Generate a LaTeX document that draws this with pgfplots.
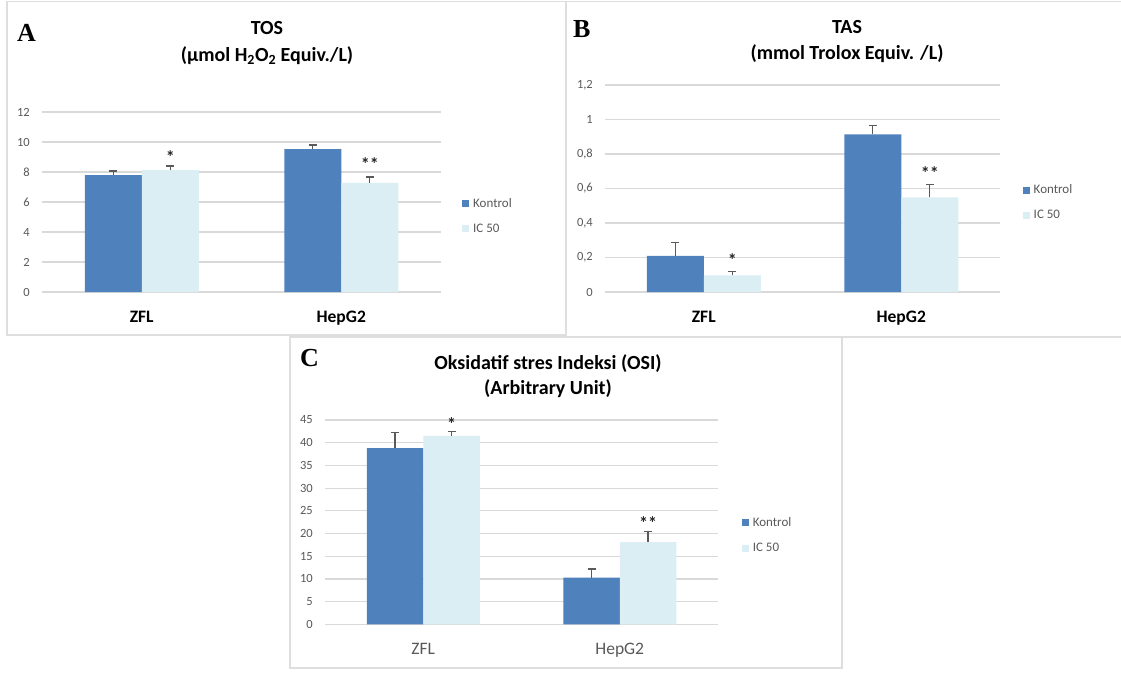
\documentclass[border=0pt]{standalone}
\usepackage{pgfplots}
\pgfplotsset{compat=1.18}
\usepackage{fontspec}
\setmainfont{Carlito}
\newfontfamily\serifbold{Liberation Serif}[BoldFont={Liberation Serif Bold}]
\definecolor{kon}{RGB}{79,129,189}
\definecolor{icc}{RGB}{219,238,244}
\definecolor{tickgray}{RGB}{89,89,89}
\definecolor{gridgray}{RGB}{217,217,217}
\definecolor{framegray}{RGB}{222,222,222}
\definecolor{errgray}{RGB}{90,90,90}

\pgfplotsset{
  panel/.style={
    scale only axis,
    ybar=0pt,
    bar width=57pt,
    xmin=-0.5, xmax=1.5,
    xtick={0,1},
    xticklabels={ZFL,HepG2},
    ymin=0,
    axis line style={draw=none},
    major tick length=0pt,
    tick style={draw=none},
    ymajorgrids,
    major grid style={gridgray, line width=1.2pt},
    /pgf/number format/assume math mode=true,
    yticklabel style={font=\fontsize{12.5}{14}\selectfont, text=tickgray, inner sep=0pt, anchor=east, xshift=-12pt},
    xticklabel style={font=\fontsize{17.5}{20}\selectfont\bfseries, text=black, inner sep=0pt, anchor=north, yshift=-19pt},
    legend style={draw=none, fill=none, inner sep=0pt, anchor=west,
      font=\fontsize{13}{15}\selectfont, text=tickgray, row sep=15pt, column sep=4pt,
      nodes={inner sep=0pt}},
    legend cell align=left,
    clip=false,
  },
  errb/.style={/pgfplots/error bars/y dir=plus, /pgfplots/error bars/y explicit,
    /pgfplots/error bars/error bar style={errgray, line width=1.2pt},
    /pgfplots/error bars/error mark options={errgray, line width=1.2pt, rotate=90, mark size=4pt}},
  konleg/.style={legend image code/.code={\fill[kon] (0pt,-3.5pt) rectangle (7pt,3.5pt);}},
  icleg/.style={legend image code/.code={\fill[icc] (0pt,-3.5pt) rectangle (7pt,3.5pt);}},
}
\tikzset{
  star/.style={font=\fontsize{18}{18}\selectfont\bfseries, text=black!85, inner sep=0pt},
  ttl/.style={font=\fontsize{20}{24}\selectfont\bfseries, anchor=base, inner sep=0pt},
  plab/.style={font=\serifbold\bfseries\fontsize{26}{26}\selectfont, anchor=base west, inner sep=0pt},
}

\begin{document}
\begin{tikzpicture}
\useasboundingbox (0pt,0pt) rectangle (1121pt,-673pt);
\fill[white] (0pt,0pt) rectangle (1121pt,-673pt);
% frames
\draw[framegray, line width=1.3pt] (7pt,-1.5pt) rectangle (566pt,-335pt);
\draw[framegray, line width=1.3pt] (566pt,-1.5pt) rectangle (1130pt,-337pt);
\draw[framegray, line width=1.3pt] (290pt,-337pt) rectangle (842pt,-668pt);

% ---------------- Panel A ----------------
\begin{axis}[panel, at={(42pt,-292pt)}, anchor=south west,
  width=399pt, height=180pt, ymax=12, ytick={0,2,...,12},
  legend style={at={(axis description cs:1.0526,0.422)}}]
\addplot[fill=kon, draw=none, konleg, errb] coordinates {(0,7.8) +- (0,0.27) (1,9.53) +- (0,0.27)};
\addplot[fill=icc, draw=none, icleg, errb] coordinates {(0,8.13) +- (0,0.27) (1,7.27) +- (0,0.4)};
\legend{Kontrol, IC 50}
\node[star] at ([xshift=28.5pt]axis cs:0,9.0) {*};
\node[star] at ([xshift=28.5pt]axis cs:1,8.53) {**};
\end{axis}
\node[plab] at (17pt,-41pt) {A};
\node[ttl] at (267pt,-34.3pt) {TOS};
\node[ttl] at (267pt,-61.3pt) {(µmol H\textsubscript{2}O\textsubscript{2} Equiv./L)};

% ---------------- Panel B ----------------
\begin{axis}[panel, at={(605pt,-292pt)}, anchor=south west,
  width=395pt, height=207pt, ymax=1.2, ytick={0,0.2,0.4,0.6,0.8,1,1.2},
  /pgf/number format/use comma,
  legend style={at={(axis description cs:1.057,0.432)}}]
\addplot[fill=kon, draw=none, konleg, errb] coordinates {(0,0.21) +- (0,0.078) (1,0.914) +- (0,0.05)};
\addplot[fill=icc, draw=none, icleg, errb] coordinates {(0,0.097) +- (0,0.021) (1,0.549) +- (0,0.075)};
\legend{Kontrol, IC 50}
\node[star] at ([xshift=28.5pt]axis cs:0,0.186) {*};
\node[star] at ([xshift=28.5pt]axis cs:1,0.688) {**};
\end{axis}
\node[plab] at (573pt,-37pt) {B};
\node[ttl] at (847pt,-33.3pt) {TAS};
\node[ttl] at (847pt,-59.3pt) {(mmol Trolox Equiv. /L)};

% ---------------- Panel C ----------------
\begin{axis}[panel, at={(325pt,-624.3pt)}, anchor=south west,
  width=393pt, height=204.3pt, ymax=45, ytick={0,5,...,45}, bar width=56.5pt,
  xticklabel style={font=\fontsize{17.5}{20}\selectfont\mdseries, text=tickgray, yshift=0.5pt},
  legend style={at={(axis description cs:1.06,0.4356)}}]
\addplot[fill=kon, draw=none, konleg, errb] coordinates {(0,38.8) +- (0,3.4) (1,10.3) +- (0,1.9)};
\addplot[fill=icc, draw=none, icleg, errb] coordinates {(0,41.5) +- (0,0.9) (1,18.1) +- (0,2.3)};
\legend{Kontrol, IC 50}
\node[star] at ([xshift=28.25pt]axis cs:0,44.05) {*};
\node[star] at ([xshift=28.25pt]axis cs:1,22.25) {**};
\end{axis}
\node[plab] at (300pt,-366pt) {C};
\node[ttl] at (548pt,-369pt) {Oksidatif stres Indeksi (OSI)};
\node[ttl] at (548pt,-394.3pt) {(Arbitrary Unit)};
\end{tikzpicture}
\end{document}
